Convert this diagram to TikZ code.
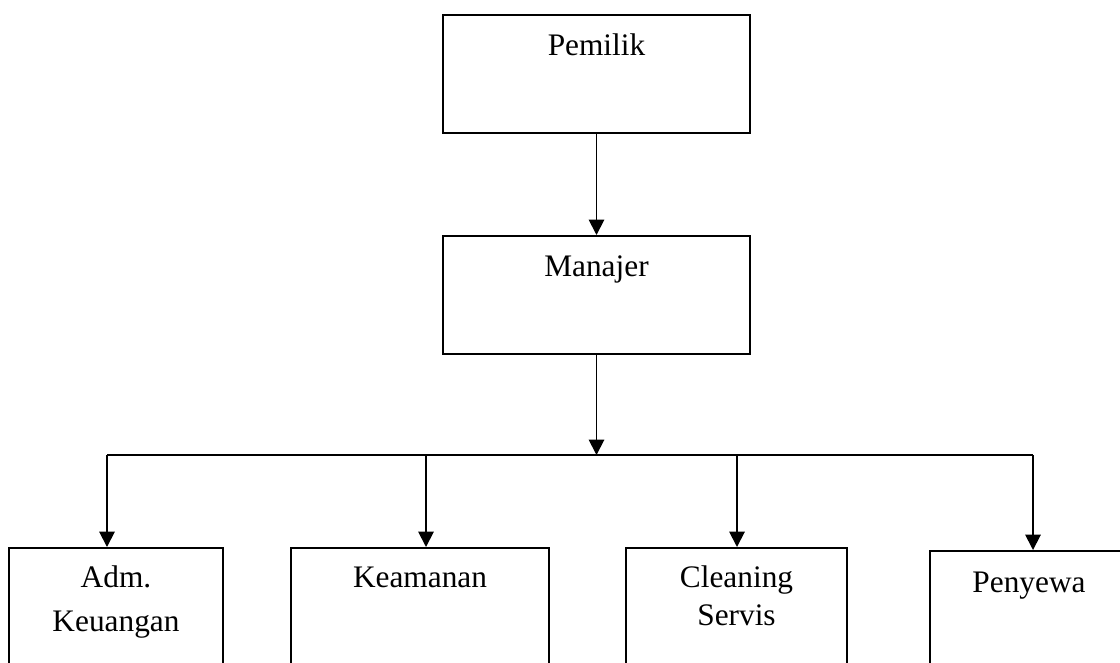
\documentclass[tikz,border=0pt]{standalone}
\usepackage{fontspec}
\setmainfont{Liberation Serif}
\usetikzlibrary{arrows.meta}

\begin{document}
\begin{tikzpicture}%
	[x={(0.75pt,0pt)},
	y={(0pt,-0.75pt)},
	font=\fontsize{23.5}{32}\selectfont,
	unit/.style={draw=black, line width=1.4pt, rectangle, anchor=north, align=center, inner xsep=0pt, inner ysep=0pt},
	upper/.style={unit, minimum width=230.25pt, text height=30.5pt, text depth=58pt},
	lower/.style={unit, text height=30pt, text depth=90pt},
	link/.style={line width=1.4pt, -{Triangle[length=11.5pt,width=11.5pt]}},
	bus/.style={line width=1.4pt}]
%
%% Page frame
%%
\useasboundingbox (0,0) rectangle (1120,662);
\clip (0,0) rectangle (1120,662);
%%
%% Boxes
%%
\node[upper] (pemilik) at (596.5,14) {Pemilik};
\node[upper] (manajer) at (596.5,235) {Manajer};
\node[lower, minimum width=160.5pt, text height=62.5pt, text depth=58pt] (adm) at (116,547) {Adm.\\[0.5pt]Keuangan};
\node[lower, minimum width=193.5pt] (keamanan) at (420,547) {Keamanan};
\node[lower, minimum width=165.75pt, text height=58.5pt, text depth=62pt] (cleaning) at (736.5,547) {Cleaning\\[-3.5pt]Servis};
\node[lower, minimum width=148.5pt, text height=31.5pt] (penyewa) at (1029,550) {Penyewa};
%%
%% Bus points
%%
\coordinate (hub) at (596.5,455);
\coordinate (b-adm) at (107,455);
\coordinate (b-kea) at (426,455);
\coordinate (b-cle) at (737,455);
\coordinate (b-pen) at (1033,455);
%%
%% Connectors
%%
\draw[link] (pemilik) -- (manajer);
\draw[link] (manajer) -- (hub);
\draw[bus] (b-adm) -- (b-pen);
\draw[link] (b-adm) -- (b-adm |- adm.north);
\draw[link] (b-kea) -- (b-kea |- keamanan.north);
\draw[link] (b-cle) -- (b-cle |- cleaning.north);
\draw[link] (b-pen) -- (b-pen |- penyewa.north);
%%
\end{tikzpicture}
\end{document}
